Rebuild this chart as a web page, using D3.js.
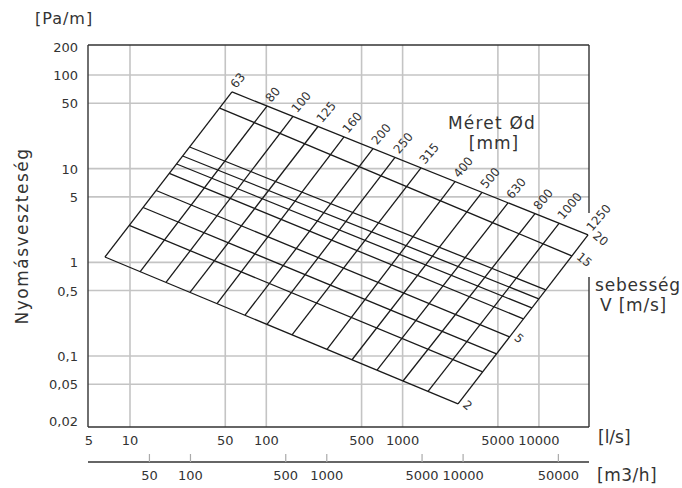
<!DOCTYPE html>
<html>
<head>
<meta charset="utf-8">
<script src="https://cdn.jsdelivr.net/npm/d3@7"></script>
<style>
  body { margin: 0; background: #fff; }
  text { font-family: "DejaVu Sans", sans-serif; fill: #333; }
</style>
</head>
<body>
<script>
// axis ticks
const yTicks = [200, 100, 50, 10, 5, 1, 0.5, 0.1, 0.05, 0.02];
const yTickLabels = ["200", "100", "50", "10", "5", "1", "0,5", "0,1", "0,05", "0,02"];
const xTicks = [5, 10, 50, 100, 500, 1000, 5000, 10000];
const m3hTicks = [50, 100, 500, 1000, 5000, 10000, 50000];

// duct diameters [mm] : end points (l/s, Pa/m) at v = 2 and v = 20 m/s
const diameters = [63, 80, 100, 125, 160, 200, 250, 315, 400, 500, 630, 800, 1000, 1250];
const dLow = [[6.55, 1.14], [11.84, 0.79], [18.37, 0.611], [27.55, 0.478], [43.5, 0.363], [69.8, 0.2725],
  [101.2, 0.2175], [154.4, 0.1684], [278.8, 0.118], [425.5, 0.0912], [649, 0.0706], [1007, 0.0541],
  [1536, 0.0419], [2550, 0.0308]];
const dHigh = [[56.0, 65.9], [101.2, 46.6], [157.0, 36.1], [239.5, 28.2], [371.6, 21.8], [606.5, 16.4],
  [879.5, 13.2], [1365, 10.2], [2424, 7.28], [3823, 5.59], [5934, 4.32], [9363, 3.31],
  [14050, 2.61], [22930, 1.96]];

// velocities [m/s] : end points on the 63 and 1250 mm lines
const velocities = [2, 3, 4, 5, 6, 7, 8, 9, 15, 20];
const velLabels = ["2", "", "", "5", "", "", "", "", "15", "20"];
const vLeft = [[6.55, 1.14], [9.87, 2.48], [12.48, 3.85], [15.57, 5.85], [19.43, 8.89], [21.98, 11.22],
  [24.36, 13.66], [27.4, 17.04], [45.5, 44.4], [56.0, 65.9]];
const vRight = [[2550, 0.0308], [3864, 0.0677], [4886, 0.1053], [6086, 0.16], [7695, 0.249], [8867, 0.326],
  [9966, 0.407], [11220, 0.507], [17430, 1.17], [22930, 1.96]];

const W = 682, H = 488;
const L = 88, R = 589, T = 45, B = 427;

let svg = d3.select("body").append("svg")
  .attr("width", W)
  .attr("height", H);

const x = d3.scaleLog().domain([4.92, 23300]).range([L, R]);
const y = d3.scaleLog().domain([0.01746, 209.1]).range([B, T]);

// grid
svg.append("g").selectAll("line")
  .data(yTicks.filter(d => d < 200 && d > 0.02))
  .enter().append("line")
    .attr("x1", L).attr("x2", R)
    .attr("y1", d => y(d)).attr("y2", d => y(d))
    .attr("stroke", "#c4c4c4").attr("stroke-width", 1.6);

svg.append("g").selectAll("line")
  .data(xTicks.filter(d => d > 5))
  .enter().append("line")
    .attr("x1", d => x(d)).attr("x2", d => x(d))
    .attr("y1", T).attr("y2", B)
    .attr("stroke", "#c4c4c4").attr("stroke-width", 1.6);

// frame (right side broken by the labels)
const frame = svg.append("g").attr("stroke", "#333").attr("stroke-width", 1.4);
frame.append("line").attr("x1", L).attr("x2", R).attr("y1", T).attr("y2", T);
frame.append("line").attr("x1", L).attr("x2", L).attr("y1", T).attr("y2", B);
frame.append("line").attr("x1", L).attr("x2", R).attr("y1", B).attr("y2", B);
frame.append("line").attr("x1", R).attr("x2", R).attr("y1", T).attr("y2", 213);
frame.append("line").attr("x1", R).attr("x2", R).attr("y1", 277).attr("y2", B);

// y tick labels
svg.append("g").selectAll("text")
  .data(yTicks)
  .enter().append("text")
    .attr("x", 78)
    .attr("y", d => y(d) + 5)
    .attr("text-anchor", "end")
    .attr("font-size", "13px")
    .text((d, i) => yTickLabels[i]);

// x tick labels (l/s)
svg.append("g").selectAll("text")
  .data(xTicks)
  .enter().append("text")
    .attr("x", d => x(d))
    .attr("y", 445)
    .attr("text-anchor", "middle")
    .attr("font-size", "13px")
    .text(d => d);

// second axis m3/h
const x2 = v => x(v / 3.6);
svg.append("line")
  .attr("x1", L).attr("x2", R).attr("y1", 462).attr("y2", 462)
  .attr("stroke", "#333").attr("stroke-width", 1.4);
svg.append("g").selectAll("line")
  .data(m3hTicks)
  .enter().append("line")
    .attr("x1", d => x2(d)).attr("x2", d => x2(d))
    .attr("y1", 454).attr("y2", 462)
    .attr("stroke", "#aaa").attr("stroke-width", 1.2);
svg.append("g").selectAll("text")
  .data(m3hTicks)
  .enter().append("text")
    .attr("x", d => x2(d))
    .attr("y", 480)
    .attr("text-anchor", "middle")
    .attr("font-size", "13px")
    .text(d => d);

// nomogram: diameter lines
const lineG = svg.append("g").attr("stroke", "#1a1a1a").attr("stroke-width", 1.3).attr("fill", "none");
lineG.selectAll(".dl")
  .data(diameters)
  .enter().append("line")
    .attr("x1", (d, i) => x(dLow[i][0])).attr("y1", (d, i) => y(dLow[i][1]))
    .attr("x2", (d, i) => x(dHigh[i][0])).attr("y2", (d, i) => y(dHigh[i][1]));

// velocity lines
lineG.selectAll(".vl")
  .data(velocities)
  .enter().append("line")
    .attr("x1", (d, i) => x(vLeft[i][0])).attr("y1", (d, i) => y(vLeft[i][1]))
    .attr("x2", (d, i) => x(vRight[i][0])).attr("y2", (d, i) => y(vRight[i][1]));

// diameter labels
svg.append("g").selectAll("text")
  .data(diameters)
  .enter().append("text")
    .attr("transform", (d, i) => "translate(" + (x(dHigh[i][0]) + 4) + "," + (y(dHigh[i][1]) - 3) + ") rotate(-50)")
    .attr("font-size", "12px")
    .text(d => d);

// velocity labels
svg.append("g").selectAll("text")
  .data(velocities.filter((d, i) => velLabels[i] !== ""))
  .enter().append("text")
    .attr("transform", d => {
      const i = velocities.indexOf(d);
      return "translate(" + (x(vRight[i][0]) + 4) + "," + (y(vRight[i][1]) + 2) + ") rotate(40)";
    })
    .attr("font-size", "12px")
    .text(d => velLabels[velocities.indexOf(d)]);

// titles
svg.append("text").attr("x", 35).attr("y", 24).attr("font-size", "16px").attr("letter-spacing", "1px").text("[Pa/m]");
svg.append("text").attr("transform", "translate(28,236) rotate(-90)")
  .attr("text-anchor", "middle").attr("font-size", "17px").attr("letter-spacing", "1.5px").text("Nyomásveszteség");
svg.append("text").attr("x", 492).attr("y", 129).attr("text-anchor", "middle").attr("font-size", "17px").attr("letter-spacing", "1.2px").text("Méret Ød");
svg.append("text").attr("x", 494).attr("y", 149).attr("text-anchor", "middle").attr("font-size", "17px").attr("letter-spacing", "1px").text("[mm]");
svg.append("text").attr("x", 595).attr("y", 291).attr("font-size", "17px").attr("letter-spacing", "0.8px").text("sebesség");
svg.append("text").attr("x", 600).attr("y", 311).attr("font-size", "17px").attr("letter-spacing", "0.8px").text("V [m/s]");
svg.append("text").attr("x", 598).attr("y", 443).attr("font-size", "17px").text("[l/s]");
svg.append("text").attr("x", 597).attr("y", 481).attr("font-size", "17px").attr("letter-spacing", "0.5px").text("[m3/h]");
</script>
</body>
</html>
